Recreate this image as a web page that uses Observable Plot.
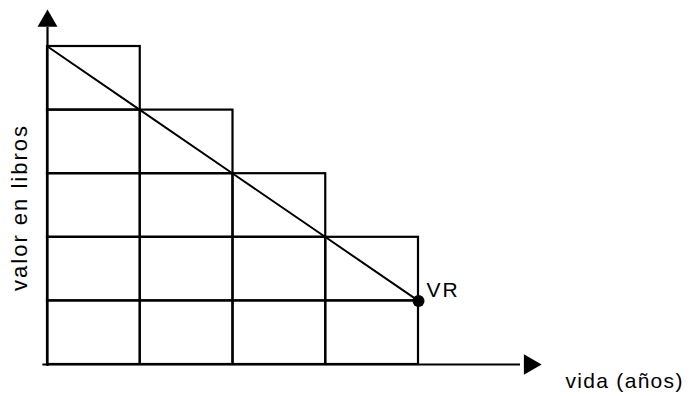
<!DOCTYPE html>
<html>
<head>
<meta charset="utf-8">
<script src="https://cdn.jsdelivr.net/npm/d3@7"></script>
<script src="https://cdn.jsdelivr.net/npm/@observablehq/plot@0.6"></script>
<style>
  html, body { margin: 0; padding: 0; background: #fff; }
  #chart svg { display: block; }
</style>
</head>
<body>
<div id="chart"></div>
<script>
// Data
const years = [1, 2, 3, 4];              // column (year) index
const columnHeights = [5, 4, 3, 2];       // stacked cells per column
const lineYears = [0, 1, 2, 3, 4];
const bookValues = [5, 4, 3, 2, 1];       // straight-line depreciation
const vrPoint = [{x: 4, y: 1, label: "VR"}];
const xLabel = "vida (años)";
const yLabel = "valor en libros";

const cells = [];
years.forEach((yr, i) => {
  for (let j = 0; j < columnHeights[i]; j++) {
    cells.push({x1: yr - 1, x2: yr, y1: j, y2: j + 1});
  }
});
const linePts = lineYears.map((x, i) => ({x, y: bookValues[i]}));

const font = "Liberation Sans, Arial, Helvetica, sans-serif";

const chart = Plot.plot({
  width: 694,
  height: 396,
  marginTop: 0, marginRight: 0, marginBottom: 0, marginLeft: 0,
  x: {domain: [0, 4], range: [47, 418], axis: null},
  y: {domain: [0, 5], range: [364, 46], axis: null},
  style: {fontFamily: font, background: "#fff"},
  marks: [
    Plot.rect(cells, {x1: "x1", x2: "x2", y1: "y1", y2: "y2", fill: "none", stroke: "#000", strokeWidth: 2.2}),
    // axes
    Plot.ruleX([0], {y1: -0.03, y2: 5.3, stroke: "#000", strokeWidth: 2.2}),
    Plot.ruleY([0], {x1: -0.05, x2: 5.1, stroke: "#000", strokeWidth: 2.2}),
    Plot.dot([{x: 0, y: 5.40}], {x: "x", y: "y", symbol: "triangle", r: 7.4, fill: "#000", stroke: "none"}),
    Plot.dot([{x: 5.2, y: 0}], {x: "x", y: "y", symbol: "triangle", r: 7.6, rotate: 90, fill: "#000", stroke: "none"}),
    // depreciation line
    Plot.line(linePts, {x: "x", y: "y", stroke: "#000", strokeWidth: 2}),
    Plot.dot(vrPoint, {x: "x", y: "y", r: 6, fill: "#000", stroke: "none"}),
    Plot.text(vrPoint, {x: "x", y: "y", text: "label", textAnchor: "start", lineAnchor: "middle", dx: 8, dy: -11, fontSize: 21, fill: "#000"}),
    // axis titles
    Plot.text([xLabel], {frameAnchor: "bottom-right", textAnchor: "start", lineAnchor: "middle", dx: -129, dy: -15, fontSize: 21, fill: "#000"}),
    Plot.text([yLabel], {frameAnchor: "left", textAnchor: "middle", lineAnchor: "middle", rotate: -90, dx: 19, dy: 9, fontSize: 22, fill: "#000"})
  ]
});
// letter spacing like the scanned lettering
d3.select(chart).selectAll("text").each(function() {
  const t = this.textContent;
  const ls = t === yLabel ? "2px" : t === xLabel ? "1.3px" : "2px";
  this.setAttribute("letter-spacing", ls);
});
document.getElementById("chart").appendChild(chart);
</script>
</body>
</html>
